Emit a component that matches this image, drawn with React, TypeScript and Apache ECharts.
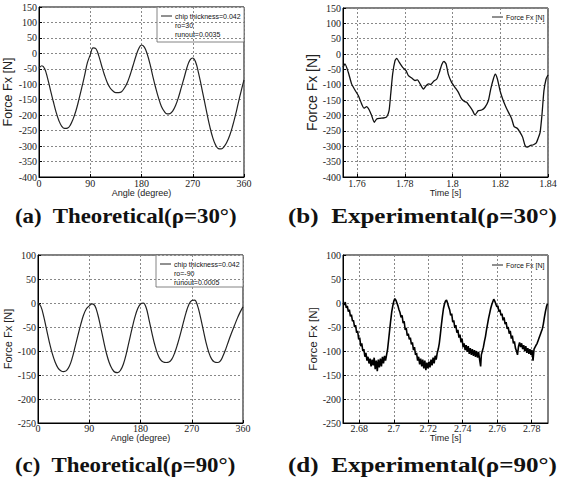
import React, { useEffect, useRef } from "react";
import * as echarts from "echarts";

// ---- (a) Theoretical rho=30 ----
const anglesDeg = [
  0, 5, 10, 15, 20, 25, 30, 35, 40, 45, 50, 55,
  60, 65, 70, 75, 80, 85, 90, 95, 100, 105, 110, 115,
  120, 125, 130, 135, 140, 145, 150, 155, 160, 165, 170, 175,
  180, 185, 190, 195, 200, 205, 210, 215, 220, 225, 230, 235,
  240, 245, 250, 255, 260, 265, 270, 275, 280, 285, 290, 295,
  300, 305, 310, 315, 320, 325, 330, 335, 340, 345, 350, 355,
  360,
];
const forceTheo30 = [
  -48, -40, -50, -80, -118, -155, -190, -218, -236, -243, -242, -232,
  -212, -185, -150, -112, -72, -30, -5, 18, 15, -8, -40, -70,
  -95, -112, -122, -127, -127, -124, -112, -95, -70, -40, -10, 15,
  27, 20, -2, -35, -75, -112, -145, -172, -188, -196, -195, -186,
  -168, -142, -110, -78, -45, -22, -15, -28, -62, -105, -150, -195,
  -237, -272, -296, -308, -309, -302, -287, -265, -235, -200, -160, -122,
  -86,
];
// ---- (c) Theoretical rho=90 ----
const forceTheo90 = [
  0, -7, -28, -55, -82, -105, -123, -135, -141, -143, -141, -132,
  -115, -92, -68, -45, -25, -12, -6, -2, -6, -24, -50, -78,
  -104, -124, -137, -144, -145, -140, -127, -106, -80, -54, -30, -12,
  -2, 0, -10, -35, -62, -87, -106, -118, -123, -124, -123, -117,
  -104, -86, -65, -42, -20, -3, 5, 6, -5, -28, -55, -82,
  -103, -117, -123, -124, -121, -110, -95, -78, -62, -47, -32, -19,
  -8,
];
const legendTheo30 = ["chip thickness=0.042", "ro=30", "runout=0.0035"];
const legendTheo90 = ["chip thickness=0.042", "ro=-90", "runout=0.0005"];

// ---- (b) Experimental rho=30 ----
const timeExp30 = [
  1.7541, 1.7549, 1.7563, 1.7577, 1.7591, 1.7605, 1.7619, 1.7629, 1.764, 1.7651,
  1.7661, 1.7672, 1.7682, 1.7696, 1.771, 1.7724, 1.7734, 1.7741, 1.7749, 1.7759,
  1.7766, 1.7777, 1.7791, 1.7805, 1.7815, 1.7829, 1.7843, 1.7853, 1.7864, 1.7878,
  1.7889, 1.7899, 1.7908, 1.792, 1.7934, 1.7945, 1.7955, 1.7964, 1.7973, 1.7982,
  1.7996, 1.801, 1.8024, 1.8038, 1.805, 1.8059, 1.807, 1.8084, 1.8094, 1.8108,
  1.8122, 1.8136, 1.815, 1.816, 1.8171, 1.8179, 1.8188, 1.8199, 1.821, 1.8224,
  1.8238, 1.8248, 1.8258, 1.8272, 1.8283, 1.8294, 1.8304, 1.8314, 1.8325, 1.8339,
  1.835, 1.836, 1.8367, 1.8375, 1.8383, 1.8392, 1.84,
];
const forceExp30 = [
  -43, -32, -59, -97, -117, -135, -162, -176, -171, -182,
  -200, -222, -211, -209, -208, -204, -184, -130, -65, -21,
  -14, -27, -43, -54, -70, -78, -86, -84, -97, -114,
  -103, -97, -99, -89, -81, -59, -34, -24, -32, -65,
  -92, -108, -124, -146, -154, -157, -168, -184, -198, -184,
  -182, -173, -152, -114, -81, -65, -81, -119, -146, -173,
  -195, -211, -236, -242, -255, -271, -298, -303, -298, -295,
  -290, -271, -255, -195, -119, -81, -68,
];
const timeTicks30 = [1.76, 1.78, 1.8, 1.82, 1.84];

// ---- (d) Experimental rho=90 ----
const timeExp90 = [
  2.6705, 2.6712, 2.6718, 2.6724, 2.673, 2.6736, 2.6742, 2.6748, 2.6754, 2.676,
  2.6766, 2.6772, 2.6778, 2.6784, 2.679, 2.6796, 2.6802, 2.6808, 2.6814, 2.682,
  2.6826, 2.6832, 2.6838, 2.6844, 2.685, 2.6856, 2.6862, 2.6868, 2.6874, 2.688,
  2.6886, 2.6892, 2.6898, 2.6904, 2.691, 2.6916, 2.6922, 2.6928, 2.6934, 2.694,
  2.6946, 2.6952, 2.6958, 2.6964, 2.697, 2.6976, 2.6982, 2.6988, 2.6994, 2.7,
  2.7006, 2.7012, 2.7018, 2.7024, 2.703, 2.7036, 2.7042, 2.7048, 2.7054, 2.706,
  2.7066, 2.7072, 2.7078, 2.7084, 2.709, 2.7096, 2.7102, 2.7108, 2.7114, 2.712,
  2.7126, 2.7132, 2.7138, 2.7144, 2.715, 2.7156, 2.7162, 2.7168, 2.7174, 2.718,
  2.7186, 2.7192, 2.7198, 2.7204, 2.721, 2.7216, 2.7222, 2.7228, 2.7234, 2.724,
  2.7246, 2.7252, 2.7258, 2.7264, 2.727, 2.7276, 2.7282, 2.7288, 2.7294, 2.73,
  2.7306, 2.7312, 2.7318, 2.7324, 2.733, 2.7336, 2.7342, 2.7348, 2.7354, 2.736,
  2.7366, 2.7372, 2.7378, 2.7384, 2.739, 2.7396, 2.7402, 2.7408, 2.7414, 2.742,
  2.7426, 2.7432, 2.7438, 2.7444, 2.745, 2.7456, 2.7462, 2.7468, 2.7474, 2.748,
  2.7486, 2.7492, 2.7498, 2.7504, 2.7508, 2.7514, 2.752, 2.7526, 2.7532, 2.7538,
  2.7544, 2.755, 2.7556, 2.7562, 2.7568, 2.7574, 2.758, 2.7586, 2.7592, 2.7598,
  2.7604, 2.761, 2.7616, 2.7622, 2.7628, 2.7634, 2.764, 2.7646, 2.7652, 2.7658,
  2.7664, 2.767, 2.7676, 2.7682, 2.7688, 2.7694, 2.77, 2.7706, 2.7712, 2.7718,
  2.7724, 2.773, 2.7736, 2.7742, 2.7748, 2.7754, 2.776, 2.7766, 2.7772, 2.7778,
  2.7784, 2.779, 2.7796, 2.7802, 2.7808, 2.7814, 2.782, 2.7826, 2.7832, 2.7838,
  2.7844, 2.785, 2.7856, 2.7862, 2.7868, 2.7874, 2.788, 2.7886, 2.7892,
];
const forceExp90 = [
  0, -4, 2, -10, -6, -18, -14, -28, -24, -38,
  -36, -50, -46, -62, -58, -76, -72, -90, -84, -100,
  -96, -112, -104, -120, -112, -126, -116, -132, -118, -130,
  -114, -138, -120, -142, -118, -134, -116, -132, -112, -126,
  -110, -120, -108, -96, -76, -56, -36, -18, -6, 4,
  9, 6, 0, -6, -14, -20, -30, -26, -42, -38,
  -56, -52, -68, -64, -76, -72, -86, -82, -98, -92,
  -108, -104, -120, -112, -128, -116, -132, -118, -136, -120,
  -140, -124, -136, -122, -134, -118, -130, -114, -126, -110,
  -118, -104, -96, -84, -66, -46, -28, -12, -2, 4,
  6, 0, -8, -14, -26, -22, -40, -36, -52, -46,
  -62, -56, -72, -66, -82, -74, -92, -84, -98, -88,
  -102, -90, -106, -94, -108, -96, -110, -98, -112, -100,
  -114, -102, -118, -132, -108, -100, -92, -80, -70, -56,
  -44, -32, -22, -12, -4, 2, 8, 4, -2, -8,
  -6, -18, -14, -26, -22, -36, -30, -44, -40, -54,
  -50, -64, -58, -74, -68, -84, -80, -94, -100, -108,
  -90, -82, -92, -84, -96, -88, -100, -90, -104, -94,
  -106, -96, -108, -98, -120, -96, -92, -88, -84, -78,
  -72, -66, -60, -54, -44, -30, -18, -8, -1,
];
const timeTicks90 = [2.68, 2.7, 2.72, 2.74, 2.76, 2.78];
const legendExp = "Force Fx [N]";

const captions = [
  "(a)  Theoretical(\u03c1=30\u00b0)",
  "(b)  Experimental(\u03c1=30\u00b0)",
  "(c)  Theoretical(\u03c1=90\u00b0)",
  "(d)  Experimental(\u03c1=90\u00b0)",
];

const splitStyle = { show: true, lineStyle: { color: "#888", type: [2, 2], width: 1 } };
const tickFont = { fontFamily: "Liberation Serif", fontSize: 10, color: "#222" };
const nameFont = { fontFamily: "Liberation Sans", color: "#222" };

function yAxisCfg(grid: number, min: number, max: number, gap: number, size: number) {
  return {
    type: "value",
    gridIndex: grid,
    min,
    max,
    interval: 50,
    name: "Force Fx [N]",
    nameLocation: "middle",
    nameGap: gap,
    nameRotate: 90,
    nameTextStyle: { ...nameFont, fontSize: size },
    axisLine: { show: true, onZero: false, lineStyle: { color: "#000" } },
    axisTick: { show: true, inside: true, length: 3, lineStyle: { color: "#000" } },
    axisLabel: { ...tickFont, margin: 2 },
    splitLine: splitStyle,
  };
}

function xAxisCfg(grid: number, min: number, max: number, name: string, gap: number, extra: any, margin: number) {
  return {
    type: "value",
    gridIndex: grid,
    min,
    max,
    name,
    nameLocation: "middle",
    nameGap: gap,
    nameTextStyle: { ...nameFont, fontSize: 9, verticalAlign: "top" },
    axisLine: { show: true, onZero: false, lineStyle: { color: "#000" } },
    axisTick: { show: true, inside: true, length: 3, lineStyle: { color: "#000" }, ...(extra.tick || {}) },
    axisLabel: { ...tickFont, margin, ...(extra.label || {}) },
    splitLine: splitStyle,
    ...(extra.axis || {}),
  };
}

function legendBox(x: number, y: number, w: number, h: number, lines: string[], box: boolean) {
  const children: any[] = [];
  if (box) {
    children.push({
      type: "rect",
      shape: { x, y, width: w, height: h },
      style: { fill: "#fff", stroke: "#666", lineWidth: 0.8 },
    });
  }
  children.push({
    type: "line",
    shape: { x1: x + 4, y1: y + 9, x2: x + 15, y2: y + 9 },
    style: { stroke: "#222", lineWidth: 1 },
  });
  lines.forEach((t, i) => {
    children.push({
      type: "text",
      x: x + 18,
      y: y + 9 + i * 9,
      style: { text: t, fontFamily: "Liberation Sans", fontSize: 7, fill: "#111", verticalAlign: "middle" },
    });
  });
  return { type: "group", children };
}

export default function App() {
  const ref = useRef<HTMLDivElement>(null);
  useEffect(() => {
    if (!ref.current) return;
    const chart = echarts.init(ref.current, undefined, { renderer: "svg" });
    const grids = [
      { left: 39, top: 7, width: 205, height: 170 },
      { left: 343, top: 8, width: 205, height: 169 },
      { left: 38, top: 255, width: 205, height: 168 },
      { left: 343, top: 255, width: 205, height: 168 },
    ].map((g) => ({ ...g, show: true, borderColor: "#000", borderWidth: 1, backgroundColor: "#fff" }));

    const option: any = {
      animation: false,
      backgroundColor: "#fff",
      grid: grids,
      xAxis: [
        xAxisCfg(0, 0, 360, "Angle (degree)", 11, { axis: { interval: 90 } }, 1),
        xAxisCfg(1, 1.7541, 1.84, "Time [s]", 11, {
          tick: { customValues: timeTicks30 },
          label: { customValues: timeTicks30 },
        }, 1),
        xAxisCfg(2, 0, 360, "Angle (degree)", 8, { axis: { interval: 90 } }, 0),
        xAxisCfg(3, 2.6705, 2.7895, "Time [s]", 9, {
          tick: { customValues: timeTicks90 },
          label: { customValues: timeTicks90 },
        }, 0),
      ],
      yAxis: [
        yAxisCfg(0, -400, 150, 23, 12.5),
        yAxisCfg(1, -400, 150, 19, 14),
        yAxisCfg(2, -250, 100, 22, 11),
        yAxisCfg(3, -250, 100, 19, 11.5),
      ],
      series: [
        {
          type: "line",
          name: legendTheo30[0],
          xAxisIndex: 0,
          yAxisIndex: 0,
          data: anglesDeg.map((a, i) => [a, forceTheo30[i]]),
          smooth: 0.4,
          showSymbol: false,
          lineStyle: { color: "#222", width: 1.2 },
        },
        {
          type: "line",
          name: legendExp,
          xAxisIndex: 1,
          yAxisIndex: 1,
          data: timeExp30.map((t, i) => [t, forceExp30[i]]),
          smooth: 0.2,
          showSymbol: false,
          lineStyle: { color: "#111", width: 1.3 },
        },
        {
          type: "line",
          name: legendTheo90[0],
          xAxisIndex: 2,
          yAxisIndex: 2,
          data: anglesDeg.map((a, i) => [a, forceTheo90[i]]),
          smooth: 0.4,
          showSymbol: false,
          lineStyle: { color: "#222", width: 1.2 },
        },
        {
          type: "line",
          name: legendExp + " ",
          xAxisIndex: 3,
          yAxisIndex: 3,
          data: timeExp90.map((t, i) => [t, forceExp90[i]]),
          showSymbol: false,
          lineStyle: { color: "#000", width: 1.6 },
        },
      ],
      graphic: [
        legendBox(157, 7, 87, 35, legendTheo30, true),
        legendBox(488, 8, 60, 17, [legendExp], false),
        legendBox(156, 255, 87, 32, legendTheo90, true),
        legendBox(488, 256, 60, 17, [legendExp], false),
        ...captions.map((c, i) => ({
          type: "text",
          x: i % 2 === 0 ? 15 : 288,
          y: i < 2 ? 216 : 465,
          scaleX: i % 2 === 0 ? 1.04 : 1.14,
          style: {
            text: c,
            fontFamily: "Liberation Serif",
            fontWeight: "bold",
            fontSize: 22,
            fill: "#111",
            verticalAlign: "middle",
          },
        })),
      ],
    };
    chart.setOption(option);
    return () => chart.dispose();
  }, []);
  return (
    <div
      ref={ref}
      style={{ position: "absolute", left: 0, top: 0, width: 562, height: 486, background: "#fff" }}
    />
  );
}
